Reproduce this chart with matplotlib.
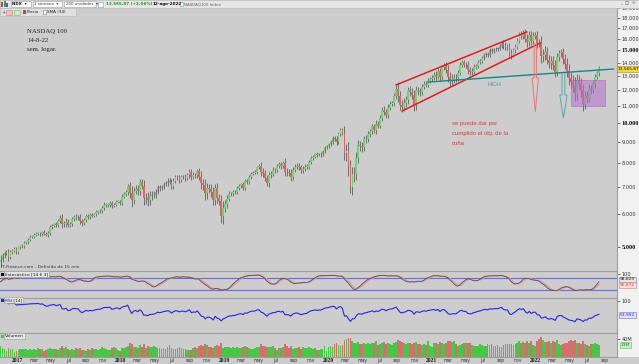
import numpy as np
import pandas as pd
import matplotlib
matplotlib.use("Agg")
import matplotlib.pyplot as plt
import matplotlib.dates as mdates
from matplotlib.patches import Rectangle, Polygon

# cierres semanales NASDAQ 100, nov-2016 .. 12-ago-2022
cierre_2016 = [4660, 4770, 4830, 4860, 4720, 4850, 4890, 4950, 4860]
cierre_2017 = [4990, 5020, 5030, 5120, 5130, 5210, 5290, 5300, 5350, 5390, 5390, 5370, 5430,
               5390, 5350, 5410, 5580, 5630, 5680, 5640, 5790, 5880, 5690, 5690, 5760, 5650,
               5680, 5850, 5920, 5900, 5910, 5780, 5710, 5800, 5950, 5900, 5980, 5960, 6000,
               6080, 6110, 6120, 6230, 6330, 6330, 6340, 6380, 6300, 6340, 6430, 6440, 6400]
cierre_2018 = [6630, 6720, 6800, 7020, 6760, 6500, 6830, 6930, 6820, 7170, 7040, 6560, 6580,
               6500, 6650, 6680, 6700, 6800, 6990, 6940, 7000, 7100, 7150, 7240, 7200, 7040,
               7230, 7380, 7360, 7290, 7380, 7390, 7340, 7460, 7620, 7400, 7480, 7460, 7630,
               7410, 7130, 7080, 6750, 6940, 6930, 6790, 6500, 6950, 6580, 6450, 5930, 6220]
cierre_2019 = [6360, 6550, 6720, 6720, 6790, 6810, 6950, 7030, 7090, 6970, 7230, 7200, 7380,
               7530, 7580, 7600, 7800, 7850, 7620, 7560, 7360, 7130, 7460, 7520, 7690, 7670,
               7870, 7940, 7850, 8000, 7620, 7590, 7570, 7410, 7690, 7820, 7880, 7810, 7680,
               7740, 7820, 7840, 8040, 8220, 8290, 8400, 8370, 8400, 8410, 8530, 8730, 8790]
cierre_2020 = [8870, 9000, 9170, 9150, 9000, 9400, 9620, 9450, 8460, 8530, 7870, 6990, 7500,
               7530, 8230, 8830, 8780, 8720, 9120, 9150, 9400, 9550, 9810, 9590, 9950, 9850,
               10280, 10750, 10640, 10470, 10900, 11140, 11180, 11650, 12120, 11620, 11080, 10940, 11200,
               11370, 12000, 11880, 11700, 11050, 12000, 11940, 11860, 12260, 12460, 12380, 12670, 12800, 12890]
cierre_2021 = [13100, 12940, 13360, 12930, 13650, 13800, 13470, 12900, 12670, 12800, 12850, 12830,
               13250, 13850, 14040, 13820, 13860, 13440, 13330, 13330, 13690, 13770, 14070, 14140, 14360,
               14640, 14710, 14640, 15000, 14960, 15090, 15160, 15140, 15370, 15650, 15390, 15330, 15320,
               14800, 14650, 15010, 15300, 15850, 16400, 16260, 16570, 16030, 15710, 16330, 15850, 16270, 16320]
cierre_2022 = [15620, 15610, 14540, 14630, 14900, 14250, 13950, 14150, 13840, 13300, 14420, 14780,
               14840, 14290, 13900, 13370, 12850, 12580, 12390, 11840, 12680, 12400, 12000, 11130, 11610,
               11520, 12120, 12040, 12400, 12950, 13200, 13565]

# sombras (decimas de %) por semana
rango_2016 = [25, 15, 12, 10, 18, 12, 10, 8, 12]
rango_2017 = [10, 8, 9, 10, 9, 8, 8, 7, 9, 8, 10, 11, 9,
              10, 9, 10, 12, 10, 9, 11, 10, 14, 22, 16, 18, 13,
              12, 11, 10, 13, 12, 15, 14, 11, 10, 9, 10, 9, 8,
              10, 9, 11, 12, 13, 10, 11, 12, 15, 10, 9, 8, 10]
rango_2018 = [12, 11, 13, 15, 25, 40, 22, 18, 20, 18, 20, 35, 30,
              35, 28, 22, 18, 16, 14, 13, 12, 12, 11, 14, 15, 18,
              16, 12, 14, 18, 13, 12, 15, 11, 12, 15, 14, 12, 13,
              18, 30, 28, 35, 30, 25, 28, 30, 25, 28, 22, 35, 40]
rango_2019 = [25, 20, 15, 12, 12, 11, 10, 9, 10, 14, 12, 12, 11,
              10, 9, 9, 10, 11, 25, 20, 18, 16, 18, 15, 14, 12,
              11, 10, 13, 12, 25, 20, 18, 22, 17, 14, 12, 13, 15,
              15, 14, 13, 12, 11, 10, 9, 12, 8, 13, 10, 9, 8]
rango_2020 = [10, 11, 12, 14, 18, 14, 11, 13, 40, 45, 55, 35, 45,
              40, 35, 30, 25, 24, 22, 20, 18, 15, 15, 16, 20, 15,
              15, 18, 20, 18, 20, 15, 14, 15, 18, 35, 30, 28, 25,
              22, 20, 22, 25, 30, 25, 20, 18, 15, 15, 14, 13, 12, 12]
rango_2021 = [15, 18, 14, 20, 15, 13, 18, 28, 30, 30, 25, 22,
              15, 14, 12, 13, 15, 22, 20, 20, 15, 12, 13, 14, 12,
              11, 10, 12, 11, 12, 10, 11, 10, 9, 11, 18, 20, 16,
              18, 22, 14, 15, 14, 16, 18, 15, 20, 25, 22, 24, 20, 18]
rango_2022 = [25, 22, 40, 35, 30, 25, 28, 30, 28, 30, 25, 18,
              20, 25, 28, 35, 40, 35, 40, 45, 38, 30, 35, 38, 30,
              28, 25, 22, 20, 18, 15, 14]

# volumen semanal (millones)
vol_2016 = [24, 20, 18, 14, 19, 17, 18, 12, 13]
vol_2017 = [16, 17, 18, 18, 17, 16, 18, 15, 17, 16, 19, 18, 17,
            14, 16, 17, 19, 18, 17, 18, 16, 19, 24, 19, 22, 18,
            15, 17, 16, 19, 17, 20, 16, 15, 14, 17, 16, 19, 17,
            17, 16, 18, 21, 19, 18, 15, 16, 19, 21, 20, 16, 14]
vol_2018 = [20, 19, 23, 25, 30, 28, 21, 22, 20, 26, 23, 28, 19,
            24, 21, 22, 24, 22, 20, 19, 18, 19, 18, 22, 26, 19,
            17, 18, 20, 22, 19, 17, 18, 15, 16, 16, 20, 21, 19,
            25, 27, 24, 28, 26, 21, 23, 19, 24, 26, 24, 30, 20]
vol_2019 = [23, 21, 22, 20, 22, 19, 21, 20, 19, 22, 24, 21, 20,
            18, 17, 19, 22, 21, 28, 24, 25, 22, 23, 21, 24, 19,
            16, 19, 20, 22, 28, 24, 20, 25, 18, 19, 20, 23, 17,
            21, 19, 20, 22, 20, 18, 19, 15, 16, 18, 17, 24, 14]
vol_2020 = [22, 24, 23, 28, 30, 27, 25, 26, 38, 40, 42, 41, 35,
            32, 30, 33, 28, 29, 31, 29, 32, 28, 30, 32, 36, 27,
            28, 31, 34, 29, 31, 28, 27, 30, 33, 38, 36, 33, 31,
            28, 32, 31, 29, 31, 34, 29, 28, 26, 28, 27, 35, 25, 23]
vol_2021 = [30, 32, 29, 33, 30, 29, 32, 36, 35, 33, 36, 29,
            24, 27, 28, 31, 32, 32, 30, 27, 24, 25, 24, 29, 27,
            24, 25, 28, 27, 29, 25, 24, 27, 23, 22, 27, 29, 28,
            29, 28, 27, 29, 32, 35, 30, 33, 32, 36, 32, 35, 27, 24]
vol_2022 = [36, 40, 45, 37, 34, 33, 36, 32, 36, 33, 37, 29,
            27, 28, 30, 32, 36, 37, 36, 38, 32, 30, 29, 36, 28,
            27, 25, 28, 29, 30, 28, 27]

cierre = cierre_2016 + cierre_2017 + cierre_2018 + cierre_2019 + cierre_2020 + cierre_2021 + cierre_2022
rango = rango_2016 + rango_2017 + rango_2018 + rango_2019 + rango_2020 + rango_2021 + rango_2022
volumen = vol_2016 + vol_2017 + vol_2018 + vol_2019 + vol_2020 + vol_2021 + vol_2022

precio_ticks = [5000, 6000, 7000, 8000, 9000, 10000, 11000, 12000, 13000, 14000, 15000, 16000, 17000, 18000, 19000]
precio_fuertes = [5000, 10000, 15000]

# dibujos sobre el grafico (fecha, precio)
canal_sup = [("2020-08-28", 12370), ("2021-12-01", 16630)]
canal_inf = [("2020-09-18", 10690), ("2022-01-17", 15640)]
linea_hch = [("2020-12-19", 12570), ("2022-10-02", 13520)]

W, H = 639, 364
FONDO = "#cdcdcd"
fig = plt.figure(figsize=(W / 100, H / 100), dpi=100)
fig.patch.set_facecolor(FONDO)


def caja(x0, y0, x1, y1):
    return [x0 / W, 1 - y1 / H, (x1 - x0) / W, (y1 - y0) / H]


def texto(x, y, s, **kw):
    kw.setdefault("va", "center")
    kw.setdefault("zorder", 6)
    return fig.text(x / W, 1 - y / H, s, **kw)


def rect(x0, y0, x1, y1, **kw):
    fig.add_artist(Rectangle((x0 / W, 1 - y1 / H), (x1 - x0) / W, (y1 - y0) / H,
                             transform=fig.transFigure, **kw))


fechas = pd.date_range("2016-11-04", periods=len(cierre), freq="7D")
x = mdates.date2num(fechas)
c = np.array(cierre, float)
o = np.r_[c[0] * 0.985, c[:-1]]
r = np.array(rango) / 1000.0
alto = np.maximum(o, c) * (1 + r)
bajo = np.minimum(o, c) * (1 - r)
sube = c >= o

px_dia = 0.284
x_ini = mdates.date2num(pd.Timestamp("2017-01-01")) - 17 / px_dia
x_fin = x_ini + 617 / px_dia

# paneles
ax = fig.add_axes(caja(0, 8, 617, 271))
ax_s = fig.add_axes(caja(0, 271, 617, 298), sharex=ax)
ax_r = fig.add_axes(caja(0, 298, 617, 333), sharex=ax)
ax_v = fig.add_axes(caja(0, 333, 617, 357), sharex=ax)

for a in (ax, ax_s, ax_r, ax_v):
    a.set_facecolor(FONDO)
    for lado in ("left", "bottom"):
        a.spines[lado].set_visible(False)
    a.spines["top"].set_color("#9c9c9c")
    a.spines["right"].set_color("#9c9c9c")
    a.spines["top"].set_linewidth(0.8)
    a.spines["right"].set_linewidth(0.8)
    a.yaxis.tick_right()
    a.tick_params(axis="y", length=2, width=0.5, pad=1.2, labelsize=3.6, colors="#333333")
    a.tick_params(axis="x", length=0, labelbottom=False)
ax.spines["top"].set_visible(False)

ax.set_yscale("log")
ax.set_xlim(x_ini, x_fin)
ax.set_ylim(4372, 19014)

ax.vlines(x, bajo, alto, color="#4a4a4a", lw=0.5, zorder=2)
ax.bar(x, np.maximum(np.abs(c - o), c * 0.003), bottom=np.minimum(o, c), width=6.2,
       color=np.where(sube, "#6fd46f", "#d86868"), edgecolor="none", linewidth=0,
       antialiased=False, zorder=3)

ax.set_yticks(precio_ticks, labels=[f"{v:,.0f}".replace(",", ".") for v in precio_ticks])
ax.yaxis.set_minor_locator(matplotlib.ticker.NullLocator())
for lbl, v in zip(ax.get_yticklabels(), precio_ticks):
    if v in precio_fuertes:
        lbl.set_fontweight("bold")
        lbl.set_fontsize(4.6)
        lbl.set_family("Liberation Serif")
        lbl.set_color("#111111")


def linea(puntos, **kw):
    xs = [mdates.date2num(pd.Timestamp(f)) for f, _ in puntos]
    ys = [p for _, p in puntos]
    ax.plot(xs, ys, **kw)


linea(canal_sup, color="#e01e1e", lw=1.1, zorder=5)
linea(canal_inf, color="#e01e1e", lw=1.1, zorder=5)
linea(linea_hch, color="#138888", lw=1.0, zorder=5)


def flecha(fecha, arriba, cabeza, punta, medio, ala, color):
    xc = mdates.date2num(pd.Timestamp(fecha))
    pts = [(xc - medio, arriba), (xc - medio, cabeza), (xc - ala, cabeza), (xc, punta),
           (xc + ala, cabeza), (xc + medio, cabeza), (xc + medio, arriba)]
    ax.add_patch(Polygon(pts, closed=False, fill=False, edgecolor=color, lw=0.7, zorder=5))


flecha("2021-12-31", 15640, 12860, 10630, 4, 11, "#e87878")
flecha("2022-04-09", 13220, 11690, 10280, 5, 13, "#5aaaaa")

x_caja = mdates.date2num(pd.Timestamp("2022-05-04"))
ax.add_patch(Rectangle((x_caja, 11000), 123, 1715, facecolor="#b46fd0", alpha=0.55,
                       edgecolor="#9a50b8", lw=0.5, zorder=4))

# estocastico [14 6 3]
s = pd.Series(c)
hh = pd.Series(alto).rolling(14, min_periods=1).max()
ll = pd.Series(bajo).rolling(14, min_periods=1).min()
k = (100 * (s - ll) / (hh - ll)).rolling(6, min_periods=1).mean()
d = k.rolling(3, min_periods=1).mean()
ax_s.set_ylim(-20, 115)
ax_s.axhline(80, color="#6a6ae6", lw=0.8)
ax_s.axhline(20, color="#6a6ae6", lw=0.8)
ax_s.plot(x, d, color="#e49494", lw=0.8)
ax_s.plot(x, k, color="#5c4a4a", lw=0.6)
ax_s.set_yticks([100], labels=["100"])

# RSI [14]
delta = s.diff()
sub = delta.clip(lower=0).ewm(alpha=1 / 14, adjust=False).mean()
baj = (-delta.clip(upper=0)).ewm(alpha=1 / 14, adjust=False).mean()
rsi = 100 - 100 / (1 + sub / baj)
ax_r.set_ylim(-10, 110)
ax_r.plot(x, rsi, color="#2626e6", lw=0.8)
ax_r.set_yticks([100], labels=["100"])

# volumen
ax_v.bar(x, volumen, width=6.4, color=np.where(sube, "#46c846", "#d66e6e"), linewidth=0,
         antialiased=False)
ax_v.set_ylim(0, 53)
ax_v.set_yticks([40], labels=["40M"])
ax_v.spines["bottom"].set_visible(True)
ax_v.spines["bottom"].set_color("#9c9c9c")

# eje de fechas
meses = {3: "mar", 5: "may", 7: "jul", 9: "sep", 11: "nov"}
pos, etq = [], []
for anio in range(2017, 2023):
    for m in (1, 3, 5, 7, 9, 11):
        f = pd.Timestamp(anio, m, 1)
        if f > fechas[-1] + pd.Timedelta(days=30):
            break
        pos.append(mdates.date2num(f))
        etq.append(str(anio) if m == 1 else meses[m])
ax_v.set_xticks(pos, labels=etq)
ax_v.tick_params(axis="x", length=0, pad=1.0, labelbottom=True, labelsize=3.3, colors="#333333")
for lbl in ax_v.get_xticklabels():
    if lbl.get_text().isdigit():
        lbl.set_fontweight("bold")
        lbl.set_fontsize(4.0)
        lbl.set_family("Liberation Serif")
        lbl.set_color("#111111")

# franja del eje derecho
rect(617, 8, 639, 357, facecolor="#f1f1f1", edgecolor="none", zorder=-1)

# textos del autor
for yy, t in ((31, "NASDAQ 100"), (40, "14-8-22"), (49, "sem. logar.")):
    texto(27, yy, t, fontsize=4.9, family="Liberation Serif", color="#222222")
texto(488, 85, "HCH", fontsize=4.6, family="Liberation Sans", color="#3a9a9a")
for yy, t in ((124, "se puede dar por"), (134, "cumplido el obj. de la"), (144, "cuña")):
    texto(452, yy, t, fontsize=4.3, family="Liberation Sans", color="#e03a3a")

# etiquetas de paneles
texto(1, 267.5, "IT-Finance.com - Definido de 15 min", fontsize=3.2, color="#333333")
for yy, t, col in ((275, "Estocástico [14 6 3]", "#111111"), (301, "RSI [14]", "#2626e6"),
                   (337, "Volumen", "#46c846")):
    rect(1, yy - 2.5, 4, yy + 0.5, facecolor=col, edgecolor="none", zorder=6)
    texto(5, yy - 1, t, fontsize=3.2, color="#222222",
          bbox=dict(boxstyle="square,pad=0.15", facecolor="#e4e4e4", edgecolor="#9c9c9c", lw=0.4))

# valores a la derecha
caja_val = dict(boxstyle="square,pad=0.12", lw=0.4)
texto(617.5, 69, "13.565,87", fontsize=3.1, color="#111111",
      bbox=dict(caja_val, facecolor="#f0d848", edgecolor="#a08a20"))
texto(620, 279.5, "98,829", fontsize=3.2, color="#222222",
      bbox=dict(caja_val, facecolor="#e6e6e6", edgecolor="#777777"))
texto(620, 285, "96,872", fontsize=3.2, color="#d04040",
      bbox=dict(caja_val, facecolor="#f3dede", edgecolor="#d08080"))
texto(620, 315, "53,992", fontsize=3.2, color="#2626e6",
      bbox=dict(caja_val, facecolor="#e2e2f6", edgecolor="#7070d0"))
texto(621, 345, "23M", fontsize=3.2, color="#207020",
      bbox=dict(caja_val, facecolor="#c8f0c8", edgecolor="#46c846"))

# barra de herramientas
rect(0, 0, 639, 8, facecolor="#e6e6e6", edgecolor="#b8b8b8", lw=0.4, zorder=5)
rect(0, 8, 76, 16, facecolor="#e0e0e0", edgecolor="#b8b8b8", lw=0.4, zorder=5)
rect(1, 2, 3, 7, facecolor="#d04040", edgecolor="none", zorder=6)
rect(3.5, 1, 5.5, 7, facecolor="#40a040", edgecolor="none", zorder=6)
rect(6, 3, 8, 7, facecolor="#4060c0", edgecolor="none", zorder=6)
for x0, x1, t, neg in ((11, 31, "NDX  ▾", True), (33, 62, "1 semana  ▾", False),
                       (64, 96, "200 unidades  ▾", False)):
    rect(x0, 1, x1, 7, facecolor="#fafafa", edgecolor="#a0a0a0", lw=0.4, zorder=6)
    texto(x0 + 1.5, 4, t, fontsize=2.9, color="#444444" if not neg else "#111111",
          fontweight="bold" if neg else "normal")
rect(98, 1.5, 103, 6.5, facecolor="#ffffff", edgecolor="#7090c0", lw=0.4, zorder=6)
texto(106, 4, "13.565,87 (+2,06%)", fontsize=3.0, color="#1a9a1a", fontweight="bold")
texto(153, 4, "12-ago-2022", fontsize=3.0, color="#111111", fontweight="bold")
rect(180, 2, 183, 6, facecolor="#ffffff", edgecolor="#7090c0", lw=0.4, zorder=6)
texto(184, 4, "NASDAQ100 Index", fontsize=2.9, color="#666666")
texto(620, 3.5, "_  □  ✕", fontsize=3.2, color="#555555", family=["DejaVu Sans"])
texto(1, 12, "+", fontsize=3.6, color="#555555")
rect(6, 9.5, 12, 14.5, facecolor="#f0c0c0", edgecolor="#c08080", lw=0.4, zorder=6)
rect(14, 9.5, 20, 14.5, facecolor="#c8ecc8", edgecolor="#80b080", lw=0.4, zorder=6)
rect(23, 9.8, 26, 14.2, facecolor="#d04040", edgecolor="none", zorder=6)
texto(27, 12, "Precio", fontsize=3.0, color="#222222")
rect(43, 10, 46, 14, facecolor="#ffffff", edgecolor="#808080", lw=0.4, zorder=6)
texto(47, 12, "SMA (34)", fontsize=3.0, color="#222222")

fig.savefig("out.png", dpi=100, facecolor=fig.get_facecolor())
